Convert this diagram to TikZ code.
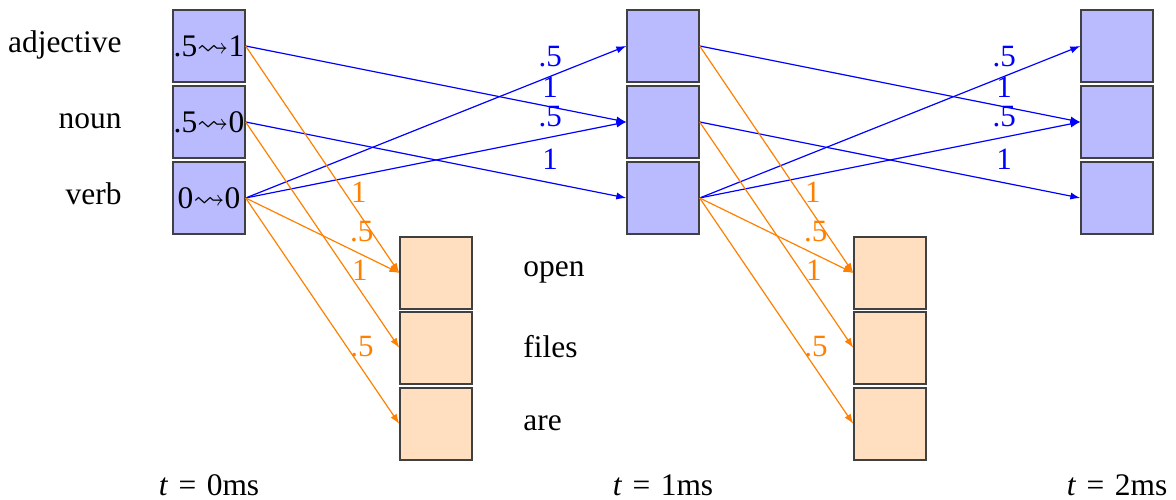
\documentclass[tikz,border=0pt]{standalone}
\usepackage{amssymb}
\usepackage{fontspec}
\setmainfont{Liberation Serif}
\usetikzlibrary{arrows.meta}
\begin{document}
\begin{tikzpicture}[x=0.42pt, y=-0.42pt,
  font=\fontsize{13.2}{15}\selectfont,
  hid/.style={rectangle, draw=black!75, line width=0.6pt, fill=blue!27,
    minimum size=30.2pt, inner sep=0pt, font=\fontsize{13.2}{15}\selectfont},
  obs/.style={rectangle, draw=black!75, line width=0.6pt, fill=orange!25,
    minimum size=30.2pt, inner sep=0pt},
  tr/.style={draw=blue, line width=0.5pt, -{Latex[length=4.2pt,width=3pt]}},
  emi/.style={draw=orange, line width=0.5pt, -{Latex[length=4.2pt,width=3pt]}},
  bl/.style={text=blue, inner sep=0pt, font=\fontsize{13}{15}\selectfont},
  ol/.style={text=orange, inner sep=0pt, font=\fontsize{13}{15}\selectfont},
  rowlab/.style={inner sep=0pt, anchor=base east},
  wordlab/.style={inner sep=0pt, anchor=base west},
  timelab/.style={inner sep=0pt, anchor=base}
]
\useasboundingbox (0,0) rectangle (1176,500);

% hidden state boxes
\node[hid] (a0) at (209,46) {.5$\leadsto$1};
\node[hid] (n0) at (209,122) {.5$\leadsto$0};
\node[hid] (v0) at (209,198) {0$\leadsto$0};
\node[hid] (a1) at (663,46) {};
\node[hid] (n1) at (663,122) {};
\node[hid] (v1) at (663,198) {};
\node[hid] (a2) at (1117,46) {};
\node[hid] (n2) at (1117,122) {};
\node[hid] (v2) at (1117,198) {};

% observation boxes
\node[obs] (o0) at (436,273) {};
\node[obs] (f0) at (436,348) {};
\node[obs] (r0) at (436,424) {};
\node[obs] (o1) at (890,273) {};
\node[obs] (f1) at (890,348) {};
\node[obs] (r1) at (890,424) {};

% row labels
\node[rowlab] (ladj) at (122,53) {adjective};
\node[rowlab] (lnoun) at (122,129) {noun};
\node[rowlab] (lverb) at (122,205) {verb};
\node[wordlab] (lopen) at (523,277) {open};
\node[wordlab] (lfiles) at (523,358) {files};
\node[wordlab] (lare) at (523,431) {are};

% time labels
\node[timelab] (t0) at (209,496) {\textit{t}\,\,=\,\,0ms};
\node[timelab] (t1) at (663,496) {\textit{t}\,\,=\,\,1ms};
\node[timelab] (t2) at (1117,496) {\textit{t}\,\,=\,\,2ms};

% transitions 0 -> 1
\draw[tr] (a0.east) -- node[bl,pos=0.8,yshift=8.4pt] (x1) {1} (n1.west);
\draw[tr] (n0.east) -- node[bl,pos=0.8,yshift=10pt] (x2) {1} (v1.west);
\draw[tr] (v0.east) -- node[bl,pos=0.8,yshift=8.2pt] (x3) {.5} (a1.west);
\draw[tr] (v0.east) -- node[bl,pos=0.8,yshift=8.8pt] (x4) {.5} (n1.west);
% transitions 1 -> 2
\draw[tr] (a1.east) -- node[bl,pos=0.8,yshift=8.4pt] (y1) {1} (n2.west);
\draw[tr] (n1.east) -- node[bl,pos=0.8,yshift=10pt] (y2) {1} (v2.west);
\draw[tr] (v1.east) -- node[bl,pos=0.8,yshift=8.2pt] (y3) {.5} (a2.west);
\draw[tr] (v1.east) -- node[bl,pos=0.8,yshift=8.8pt] (y4) {.5} (n2.west);

% emissions at t=0
\draw[emi] (a0.east) -- node[ol,pos=0.643,xshift=6pt] (e1) {1} (o0.west);
\draw[emi] (n0.east) -- node[ol,pos=0.655,xshift=5.7pt] (e2) {1} (f0.west);
\draw[emi] (v0.east) -- node[ol,pos=0.755,yshift=9.5pt] (e3) {.5} (o0.west);
\draw[emi] (v0.east) -- node[ol,pos=0.659,xshift=6.3pt] (e4) {.5} (r0.west);
% emissions at t=1
\draw[emi] (a1.east) -- node[ol,pos=0.643,xshift=6pt] (g1) {1} (o1.west);
\draw[emi] (n1.east) -- node[ol,pos=0.655,xshift=5.7pt] (g2) {1} (f1.west);
\draw[emi] (v1.east) -- node[ol,pos=0.755,yshift=9.5pt] (g3) {.5} (o1.west);
\draw[emi] (v1.east) -- node[ol,pos=0.659,xshift=6.3pt] (g4) {.5} (r1.west);
\end{tikzpicture}
\end{document}
